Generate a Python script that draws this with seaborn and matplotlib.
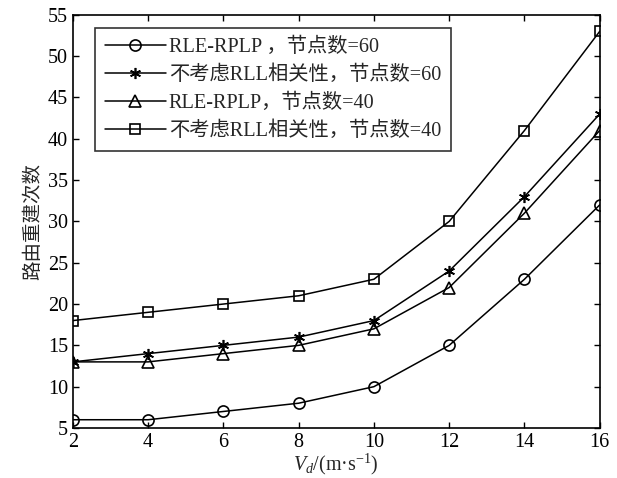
import matplotlib
matplotlib.use("Agg")
import matplotlib.pyplot as plt
import seaborn as sns
import pandas as pd

x = [2, 4, 6, 8, 10, 12, 14, 16]
rle_60 = [6, 6, 7, 8, 10, 15, 23, 32]
norll_60 = [13, 14, 15, 16, 18, 24, 33, 43]
rle_40 = [13, 13, 14, 15, 17, 22, 31, 41]
norll_40 = [18, 19, 20, 21, 23, 30, 41, 53]
labels = ["RLE-RPLP ，节点数=60", "不考虑RLL相关性，节点数=60",
          "RLE-RPLP，节点数=40", "不考虑RLL相关性，节点数=40"]
xticks = [2, 4, 6, 8, 10, 12, 14, 16]
yticks = [5, 10, 15, 20, 25, 30, 35, 40, 45, 50, 55]

sns.set_theme(style="white")
plt.rcParams['font.family'] = ['Liberation Serif', 'Noto Sans CJK SC']
plt.rcParams['mathtext.fontset'] = 'custom'
plt.rcParams['mathtext.rm'] = 'Liberation Serif'
plt.rcParams['mathtext.it'] = 'Liberation Serif:italic'

fig = plt.figure(figsize=(6.17, 4.78), dpi=100)
ax = fig.add_axes([0.118, 0.1046, 0.854, 0.8644])

markers = ['o', (6, 2, 0), '^', 's']
series = [rle_60, norll_60, rle_40, norll_40]
for ys, m, lab in zip(series, markers, labels):
    df = pd.DataFrame({"x": x, "y": ys})
    sns.lineplot(data=df, x="x", y="y", ax=ax, color="black", lw=1.1,
                 marker=m, markersize=8 if m != 's' else 7,
                 markerfacecolor='none', markeredgecolor='black',
                 markeredgewidth=1.2, label=lab)

ax.set_xlim(2, 16)
ax.set_ylim(5, 55)
ax.set_xticks(xticks)
ax.set_yticks(yticks)
ax.tick_params(direction='in', length=4, width=1, labelsize=14.5,
               top=True, right=True, bottom=True, left=True, colors='black')
for s in ax.spines.values():
    s.set_color('black')
    s.set_linewidth(1.2)
ax.set_xlabel(r"$V_d$/(m·s$^{-1}$)", fontsize=14.5, labelpad=0)
ax.set_ylabel("路由重建次数", fontsize=14, labelpad=4)

leg = ax.legend(loc='upper left', bbox_to_anchor=(0.042, 0.9685), fontsize=14.6,
                frameon=True, fancybox=False, edgecolor='black',
                handlelength=3.0, handletextpad=0.15, borderpad=0.5,
                labelspacing=0.42, borderaxespad=0)
leg.get_frame().set_linewidth(1.2)

fig.savefig("out.png", dpi=100)
